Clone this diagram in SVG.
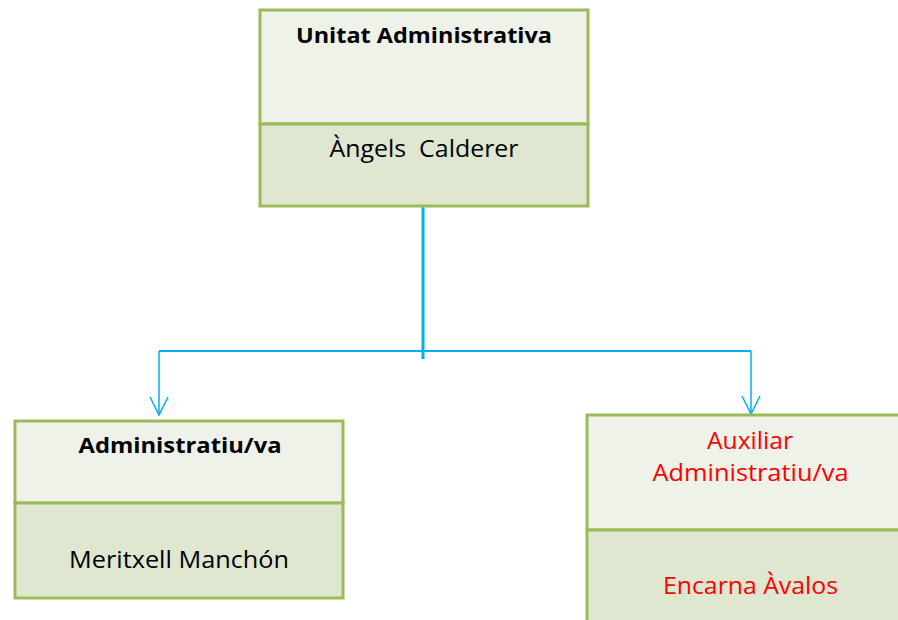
<svg xmlns="http://www.w3.org/2000/svg" width="898" height="620" viewBox="0 0 898 620">
<style>
.top{fill:#eff2e9;stroke:#9bbb59;stroke-width:3}
.bot{fill:#dfe7d1;stroke:#9bbb59;stroke-width:3}
.t{font-family:"Open Sans","Liberation Sans",sans-serif;font-size:23px;text-anchor:middle;fill:#000}
.b{font-weight:bold;font-size:22px}
.r{fill:#ff0000}
.c{stroke:#00b0f0;fill:none}
</style>
<rect width="898" height="620" fill="#fff"/>
<g id="connectors">
<path class="c" stroke-width="3" d="M423,207 V359"/>
<path class="c" stroke-width="2" d="M159,351 H751"/>
<path class="c" stroke-width="1.5" d="M159,351 V415 M751,351 V414"/>
<path class="c" stroke-width="1.5" d="M150,397 L159,415 L168,397 M742,396 L751,414 L760,396"/>
</g>
<g id="node-unitat">
<rect class="top" x="260" y="10" width="328" height="114"/>
<rect class="bot" x="260" y="124" width="328" height="82"/>
<text class="t b" x="424" y="43" textLength="256" lengthAdjust="spacingAndGlyphs">Unitat Administrativa</text>
<text class="t" x="424" y="157" textLength="189" lengthAdjust="spacingAndGlyphs" xml:space="preserve">Àngels  Calderer</text>
</g>
<g id="node-administratiu">
<rect class="top" x="15" y="421" width="328" height="82"/>
<rect class="bot" x="15" y="503" width="328" height="95"/>
<text class="t b" x="180" y="453" textLength="203" lengthAdjust="spacingAndGlyphs">Administratiu/va</text>
<text class="t" x="179" y="568" textLength="220" lengthAdjust="spacingAndGlyphs">Meritxell Manchón</text>
</g>
<g id="node-auxiliar">
<rect class="top" x="587" y="415" width="328" height="115"/>
<rect class="bot" x="587" y="530" width="328" height="100"/>
<text class="t r" x="750" y="449" textLength="86" lengthAdjust="spacingAndGlyphs">Auxiliar</text>
<text class="t r" x="750.5" y="481" textLength="196" lengthAdjust="spacingAndGlyphs">Administratiu/va</text>
<text class="t r" x="750.5" y="594" textLength="175" lengthAdjust="spacingAndGlyphs">Encarna Àvalos</text>
</g>
</svg>
